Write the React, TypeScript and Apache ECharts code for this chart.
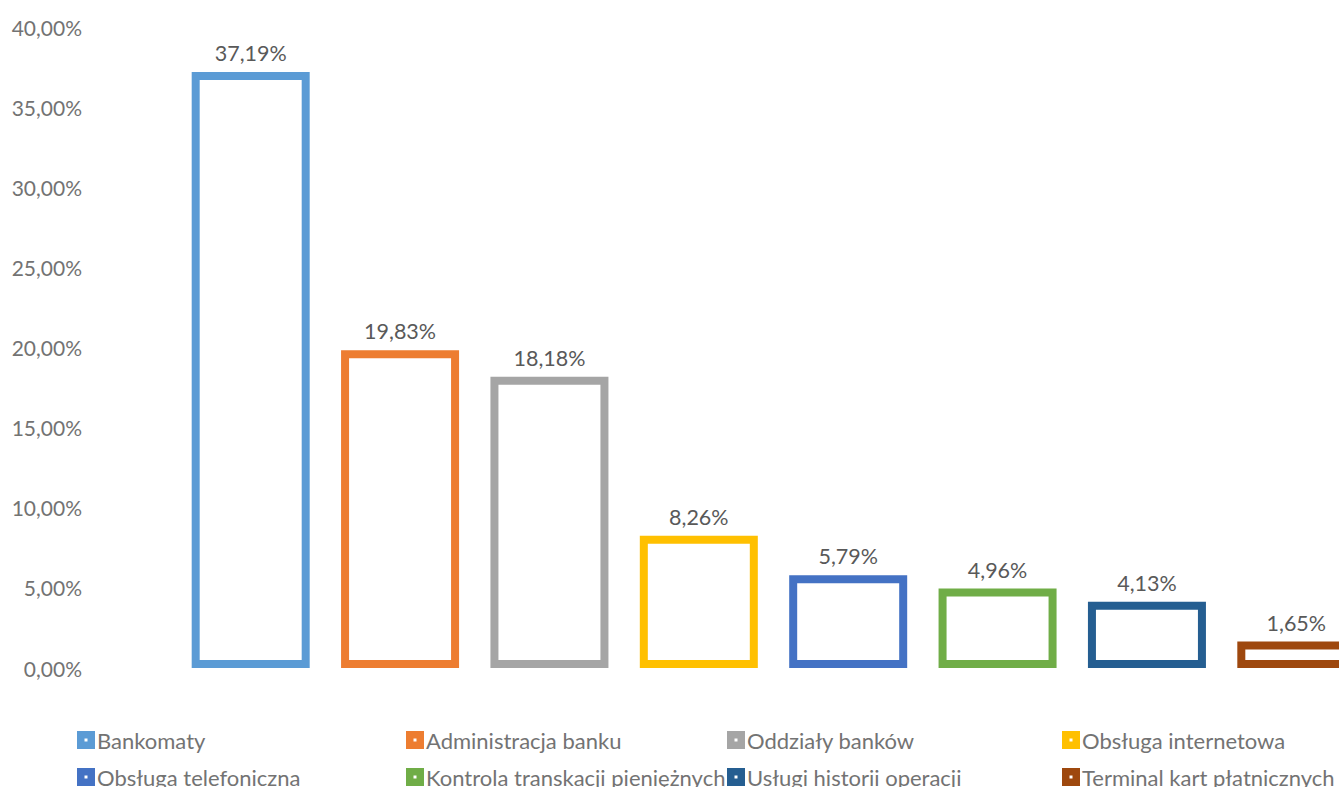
import React, { useEffect, useRef } from "react";
import * as echarts from "echarts";

const categories = [
  "Bankomaty",
  "Administracja banku",
  "Oddziały banków",
  "Obsługa internetowa",
  "Obsługa telefoniczna",
  "Kontrola transkacji pieniężnych",
  "Usługi historii operacji",
  "Terminal kart płatnicznych",
];
const values = [37.19, 19.83, 18.18, 8.26, 5.79, 4.96, 4.13, 1.65];
const colors = ["#5B9BD5", "#ED7D31", "#A5A5A5", "#FFC000", "#4472C4", "#70AD47", "#255E91", "#9E480E"];

const legendPos = [
  [77, 729], [406, 729], [727, 729], [1062, 729],
  [77, 766], [406, 766], [727, 766], [1062, 766],
];

const FONT = "Lato";
const fmt = (v: number) => v.toFixed(2).replace(".", ",") + "%";

export default function App() {
  const ref = useRef<HTMLDivElement>(null);
  useEffect(() => {
    if (!ref.current) return;
    const chart = echarts.init(ref.current, undefined, { renderer: "svg" });
    const series = categories.map((name, i) => ({
      name,
      type: "bar",
      barWidth: 118,
      barGap: "-100%",
      data: categories.map((_, j) => (j === i ? values[i] : "-")),
      itemStyle: { color: "#ffffff", borderColor: colors[i], borderWidth: 8 },
      label: {
        show: true,
        position: "top",
        distance: 8,
        fontFamily: FONT,
        fontSize: 21.5,
        color: "#595959",
        formatter: (p: any) => fmt(p.value),
      },
    }));
    const legends = categories.map((name, i) => ({
      left: legendPos[i][0],
      top: legendPos[i][1],
      padding: 0,
      itemWidth: 18,
      itemHeight: 18,
      data: [
        {
          name,
          icon: "path://M0,0H18V18H0Z M7.5,7.5V10.5H10.5V7.5Z",
          itemStyle: { color: colors[i], borderWidth: 0 },
        },
      ],
      textStyle: { fontFamily: FONT, fontSize: 22, color: "#737373", padding: [0, 0, 0, -3] },
      selectedMode: false,
    }));
    chart.setOption({
      animation: false,
      backgroundColor: "#ffffff",
      grid: { left: 176, right: -32, top: 27, bottom: 119, outerBoundsMode: "none", containLabel: false },
      legend: legends,
      xAxis: {
        type: "category",
        data: categories,
        axisLine: { show: false },
        axisTick: { show: false },
        axisLabel: { show: false },
      },
      yAxis: {
        type: "value",
        min: 0,
        max: 40,
        interval: 5,
        splitLine: { show: false },
        axisLine: { show: false },
        axisTick: { show: false },
        axisLabel: {
          margin: 94,
          align: "right",
          fontFamily: FONT,
          fontSize: 21,
          color: "#737373",
          formatter: (v: number) => fmt(v),
        },
      },
      series,
    });
    return () => chart.dispose();
  }, []);
  return (
    <div
      ref={ref}
      style={{ position: "absolute", left: 0, top: 0, width: 1339, height: 787 }}
    />
  );
}
